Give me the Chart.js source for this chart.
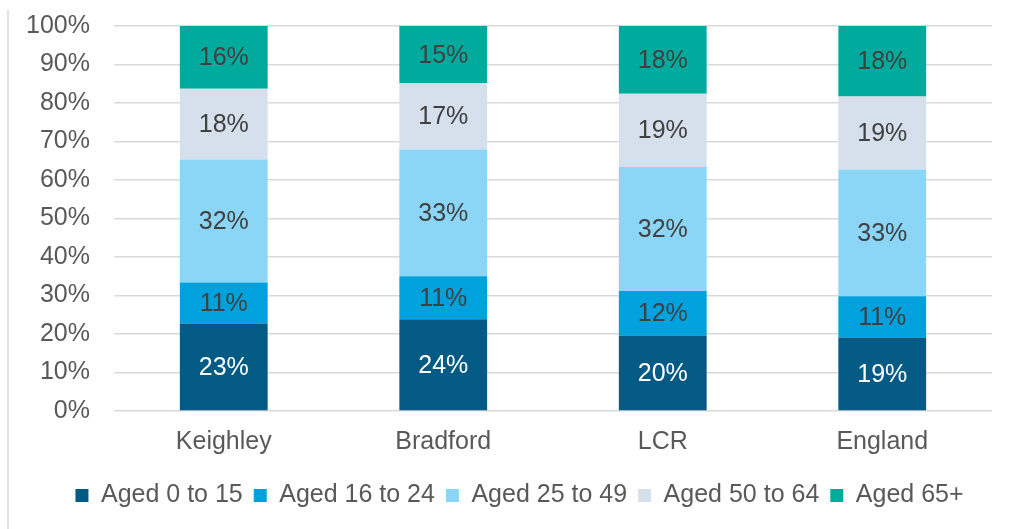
<!DOCTYPE html>
<html>
<head>
<meta charset="utf-8">
<script src="https://cdn.jsdelivr.net/npm/chart.js@4"></script>
<style>
  html, body { margin: 0; padding: 0; background: #fff; }
  #wrap { width: 1009px; height: 529px; }
</style>
</head>
<body>
<div id="wrap"><canvas id="age-chart" width="1009" height="529"></canvas></div>
<script>
// categories and series (share of population, %)
var areas = ['Keighley', 'Bradford', 'LCR', 'England'];
var aged_0_15  = [22.7, 23.8, 19.6, 19.1];
var aged_16_24 = [10.7, 11.2, 11.6, 10.7];
var aged_25_49 = [31.9, 32.9, 32.2, 32.9];
var aged_50_64 = [18.4, 17.2, 19.0, 19.0];
var aged_65    = [16.3, 14.9, 17.6, 18.3];
var yTicks = [0, 10, 20, 30, 40, 50, 60, 70, 80, 90, 100];

var seriesNames = ['Aged 0 to 15', 'Aged 16 to 24', 'Aged 25 to 49', 'Aged 50 to 64', 'Aged 65+'];
var seriesData = [aged_0_15, aged_16_24, aged_25_49, aged_50_64, aged_65];
var seriesColours = ['#035b85', '#00a1dc', '#8bd6f7', '#d5e0ec', '#00aa9d'];
var labelColours = ['#ffffff', '#404040', '#404040', '#404040', '#404040'];

var FONT = 'Liberation Sans, Arial, sans-serif';

// draws the % in the middle of each segment
var segmentLabels = {
    id: 'segmentLabels',
    afterDatasetsDraw: function(chart)
    {
        var ctx = chart.ctx;
        ctx.save();
        ctx.font = '25px ' + FONT;
        ctx.textAlign = 'center';
        ctx.textBaseline = 'middle';
        chart.data.datasets.forEach(function(ds, i)
        {
            chart.getDatasetMeta(i).data.forEach(function(bar, j)
            {
                ctx.fillStyle = labelColours[i];
                ctx.fillText(Math.round(ds.data[j]) + '%', bar.x, (bar.y + bar.base) / 2 + 1);
            });
        });
        ctx.restore();
    }
};

// thin grey rule down the left edge, legend nudged to sit like the original
var frameBits = {
    id: 'frameBits',
    afterLayout: function(chart)
    {
        chart.legend.left = 47;
    },
    beforeDraw: function(chart)
    {
        var ctx = chart.ctx;
        ctx.save();
        ctx.strokeStyle = '#d9d9d9';
        ctx.lineWidth = 1.5;
        ctx.beginPath();
        ctx.moveTo(8, 10);
        ctx.lineTo(8, 529);
        ctx.stroke();
        ctx.restore();
    }
};

var datasets = seriesNames.map(function(name, i)
{
    return {
        label: name,
        data: seriesData[i],
        backgroundColor: seriesColours[i],
        borderWidth: 0,
        categoryPercentage: 1.0,
        barPercentage: 0.4
    };
});

var chart = new Chart(document.getElementById('age-chart').getContext('2d'),
{
    type: 'bar',
    data: { labels: areas, datasets: datasets },
    options:
    {
        responsive: false,
        animation: false,
        layout: { padding: { left: 0, right: 17, top: 26, bottom: 11 } },
        scales:
        {
            x: {
                stacked: true,
                grid: { display: false },
                border: { display: false },
                ticks: { color: '#595959', font: { family: FONT, size: 25 }, padding: 8 },
                afterFit: function(scale) { scale.height = 61; }
            },
            y: {
                stacked: true,
                min: 0,
                max: 100,
                afterBuildTicks: function(scale) { scale.ticks = yTicks.map(function(v) { return { value: v }; }); },
                grid: { color: '#d9d9d9', lineWidth: 1.5, drawTicks: false },
                border: { display: false },
                ticks: {
                    color: '#595959',
                    font: { family: FONT, size: 25 },
                    padding: 24,
                    callback: function(v) { return v + '%'; }
                },
                afterFit: function(scale)
                {
                    scale.width = 114;
                    scale.paddingTop = 15;
                    scale.paddingBottom = 15;
                }
            }
        },
        plugins:
        {
            legend: {
                position: 'bottom',
                labels: {
                    boxWidth: 13,
                    boxHeight: 13,
                    padding: 11,
                    color: '#595959',
                    font: { family: FONT, size: 25 }
                }
            },
            tooltip: { enabled: false }
        }
    },
    plugins: [segmentLabels, frameBits]
});
</script>
</body>
</html>
